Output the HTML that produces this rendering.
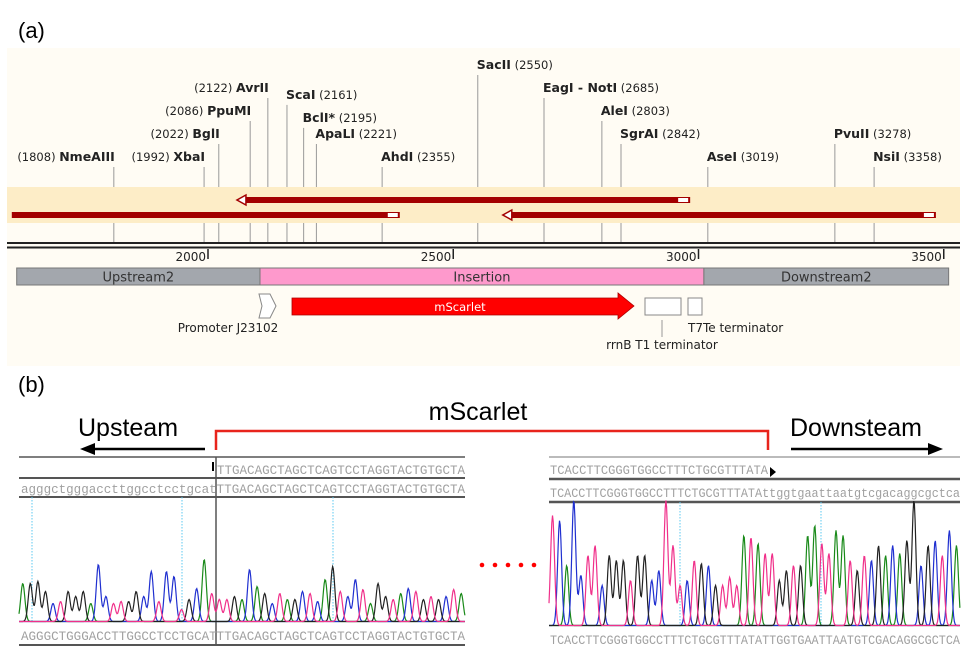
<!DOCTYPE html>
<html><head><meta charset="utf-8"><style>
html,body{margin:0;padding:0;background:#fff;}
svg{display:block;font-family:"DejaVu Sans","Liberation Sans",sans-serif;}
.seq{font-family:"Liberation Mono",monospace;font-size:12.5px;fill:#a0a0a0;}
</style></head><body>
<svg id="fig" width="976" height="651" viewBox="0 0 976 651" xmlns="http://www.w3.org/2000/svg">
<g id="panelA">
<rect x="7" y="48" width="953" height="318" fill="#fffcf4"/>
<rect x="7" y="187" width="953" height="36" fill="#fdedc7"/>
<text x="18" y="38" font-family="Liberation Sans" font-size="22" fill="#000">(a)</text>
<g id="sites"></g>
<line x1="7" y1="243" x2="960" y2="243" stroke="#222" stroke-width="2"/>
<line x1="7" y1="247.5" x2="960" y2="247.5" stroke="#222" stroke-width="2"/>
<g id="ticks"></g>
<g id="segs"></g>
<g id="bars"></g>
<polygon points="259,294 270,294 276,306 270,318 259,318 262,306" fill="#fff" stroke="#888"/>
<text x="228" y="332" text-anchor="middle" font-size="12" fill="#222">Promoter J23102</text>
<polygon points="292,298 618,298 618,293 634,306 618,319 618,315 292,315" fill="#f00" stroke="#a00" stroke-width="0.8"/>
<text x="460" y="311" text-anchor="middle" font-size="11.5" fill="#fff">mScarlet</text>
<rect x="645" y="298" width="36" height="17" fill="#fff" stroke="#888"/>
<rect x="688" y="298" width="14" height="17" fill="#fff" stroke="#888"/>
<line x1="662" y1="320" x2="662" y2="337" stroke="#999"/>
<text x="688" y="332" font-size="12" fill="#222">T7Te terminator</text>
<text x="662" y="349" text-anchor="middle" font-size="12" fill="#222">rrnB T1 terminator</text>
</g>
<g id="panelB">
<text x="18" y="392" font-family="Liberation Sans" font-size="22" fill="#000">(b)</text>
<text x="78" y="436" font-family="Liberation Sans" font-size="25" fill="#000">Upsteam</text>
<line x1="92" y1="449" x2="205" y2="449" stroke="#000" stroke-width="2.5"/>
<polygon points="80,449 95,443 95,455" fill="#000"/>
<text x="478" y="420" text-anchor="middle" font-family="Liberation Sans" font-size="25" fill="#000">mScarlet</text>
<path d="M216,450 V431 H768 V450" fill="none" stroke="#e8241c" stroke-width="2.5"/>
<text x="790" y="436" font-family="Liberation Sans" font-size="25" fill="#000">Downsteam</text>
<line x1="791" y1="449" x2="930" y2="449" stroke="#000" stroke-width="2.5"/>
<polygon points="943,449 928,443 928,455" fill="#000"/>
<g fill="#f00">
<circle cx="482" cy="565" r="2.3"/><circle cx="495" cy="565" r="2.3"/><circle cx="508" cy="565" r="2.3"/><circle cx="521" cy="565" r="2.3"/><circle cx="534" cy="565" r="2.3"/>
</g>
<g id="chromL">
<line x1="19" y1="457" x2="465" y2="457" stroke="#555" stroke-width="1.5"/>
<line x1="19" y1="478" x2="465" y2="478" stroke="#555" stroke-width="2"/>
<line x1="19" y1="497" x2="465" y2="497" stroke="#555" stroke-width="2"/>
<line x1="19" y1="645" x2="465" y2="645" stroke="#555" stroke-width="2"/>
<line x1="216" y1="457" x2="216" y2="645" stroke="#555" stroke-width="1.5"/>
<rect x="212" y="462" width="2" height="9" fill="#000"/>
<text class="seq" x="217" y="474" textLength="248" lengthAdjust="spacingAndGlyphs">TTGACAGCTAGCTCAGTCCTAGGTACTGTGCTA</text>
<text class="seq" x="21" y="493" textLength="444" lengthAdjust="spacingAndGlyphs">agggctgggaccttggcctcctgcatTTGACAGCTAGCTCAGTCCTAGGTACTGTGCTA</text>
<text class="seq" x="21" y="640" textLength="444" lengthAdjust="spacingAndGlyphs">AGGGCTGGGACCTTGGCCTCCTGCATTTGACAGCTAGCTCAGTCCTAGGTACTGTGCTA</text>
<g stroke="#5bc8f0" stroke-dasharray="1.5,1.5" stroke-width="1">
<line x1="32" y1="497" x2="32" y2="623"/><line x1="182" y1="497" x2="182" y2="623"/><line x1="333" y1="497" x2="333" y2="623"/>
</g>
</g>
<g id="chromR">
<line x1="549" y1="457" x2="960" y2="457" stroke="#777" stroke-width="1"/>
<line x1="549" y1="479" x2="960" y2="479" stroke="#555" stroke-width="2.5"/>
<line x1="549" y1="502" x2="960" y2="502" stroke="#555" stroke-width="2.5"/>
<text class="seq" x="550" y="474" textLength="218" lengthAdjust="spacingAndGlyphs">TCACCTTCGGGTGGCCTTTCTGCGTTTATA</text>
<polygon points="770,467 776,472 770,477" fill="#000"/>
<text class="seq" x="550" y="497" textLength="410" lengthAdjust="spacingAndGlyphs">TCACCTTCGGGTGGCCTTTCTGCGTTTATAttggtgaattaatgtcgacaggcgctca</text>
<text class="seq" x="550" y="644" textLength="410" lengthAdjust="spacingAndGlyphs">TCACCTTCGGGTGGCCTTTCTGCGTTTATATTGGTGAATTAATGTCGACAGGCGCTCA</text>
<g stroke="#5bc8f0" stroke-dasharray="1.5,1.5" stroke-width="1">
<line x1="680" y1="502" x2="680" y2="627"/><line x1="821" y1="502" x2="821" y2="627"/>
</g>
</g>
</g>
</svg>
<script>
// ---- Map data ----
const siteNames = ["NmeAIII","XbaI","BglI","PpuMI","AvrII","ScaI","BclI*","ApaLI","AhdI","SacII","EagI - NotI","AleI","SgrAI","AseI","PvuII","NsiI"];
const sitePos = [1808,1992,2022,2086,2122,2161,2195,2221,2355,2550,2685,2803,2842,3019,3278,3358];
const siteLevel = [0,0,1,2,3,2.7,1.7,1,0,4,3,2,1,0,1,0];
const siteLeft = [1,1,1,1,1,0,0,0,0,0,0,0,0,0,0,0];
const tickVals = [2000,2500,3000,3500];
const segNames = ["Upstream2","Insertion","Downstream2"];
const segStart = [1610,2106,3011];
const segEnd = [2106,3011,3510];
const orfStart = [2059,1600,2601];
const orfEnd = [2983,2391,3484];
const orfRow = [0,1,1];
const orfRev = [1,0,1];

const NS="http://www.w3.org/2000/svg";
const bx = bp => 208 + (bp-2000)*0.4905;
const ly = lv => 161 - lv*23;
function mk(tag, attrs, parent){const e=document.createElementNS(NS,tag);for(const k in attrs)e.setAttribute(k,attrs[k]);parent.appendChild(e);return e;}

const sites=document.getElementById('sites');
sitePos.forEach((p,i)=>{
  const x=bx(p), y=ly(siteLevel[i]);
  const l1=mk('line',{x1:x,y1:y+6,x2:x,y2:187,stroke:'#999','stroke-width':1},sites);
  
  
  const l2=mk('line',{x1:x,y1:223,x2:x,y2:243,stroke:'#999','stroke-width':1},sites);
  
  
  const t=mk('text',{x:siteLeft[i]?x+1:x-1,y:y,'font-size':11.5,fill:'#222','text-anchor':siteLeft[i]?'end':'start'},sites);
  
  
  if(siteLeft[i]){
    const a=mk('tspan',{},t);a.textContent='('+p+')  ';
    const b=mk('tspan',{'font-weight':'bold','font-size':12.5},t);b.textContent=siteNames[i];
  }else{
    const b=mk('tspan',{'font-weight':'bold','font-size':12.5},t);b.textContent=siteNames[i];
    const a=mk('tspan',{},t);a.textContent='  ('+p+')';
  }
});
const ticks=document.getElementById('ticks');
tickVals.forEach(v=>{
  const x=bx(v);
  const l=mk('line',{x1:x,y1:249,x2:x,y2:259,stroke:'#222','stroke-width':1.5},ticks);
  
  
  const t=mk('text',{x:x-2,y:261,'font-size':12,fill:'#222','text-anchor':'end'},ticks);
  
  
  t.textContent=v;
});
const segs=document.getElementById('segs');
segNames.forEach((n,i)=>{
  const x1=Math.max(13,bx(segStart[i])), x2=Math.min(950,bx(segEnd[i]));
  const r=mk('rect',{x:x1,y:268,width:x2-x1,height:17,fill:i==1?'#fe99cc':'#a3a7ad',stroke:'#777'},segs);
  
  
  const t=mk('text',{x:(x1+x2)/2,y:281.5,'text-anchor':'middle','font-size':13,fill:'#333'},segs);
  
  
  t.textContent=n;
});
const bars=document.getElementById('bars');
orfStart.forEach((s,i)=>{
  const x1=Math.max(7,bx(s)), x2=Math.min(960,bx(orfEnd[i])), y=orfRow[i]?215:200;
  const r=mk('rect',{x:x1+(orfRev[i]?8:0),y:y-3,width:x2-x1-(orfRev[i]?8:0),height:6,fill:'#a30000'},bars);
  
  
  mk('rect',{x:x2-12,y:y-2,width:10,height:4,fill:'#fff'},bars);
  if(orfRev[i]){const h=mk('polygon',{points:`${x1},${y} ${x1+9},${y-5} ${x1+9},${y+5}`,fill:'#fff',stroke:'#a30000','stroke-width':1.5},bars);
  
  }
});

// ---- Chromatogram data ----
const seqLeft = "AGGGCTGGGACCTTGGCCTCCTGCATTTGACAGCTAGCTCAGTCCTAGGTACTGTGCTA";
const heightsLeft = [38,38,40,30,18,20,30,25,30,18,57,25,18,20,20,30,25,50,20,50,45,12,22,33,62,28,22,22,25,22,52,35,28,18,28,22,22,30,28,20,42,55,30,25,42,32,18,38,25,22,28,33,30,22,25,22,25,32,28];
const seqRight = "TCACCTTCGGGTGGCCTTTCTGCGTTTATATTGGTGAATTAATGTCGACAGGCGCTCA";
const heightsRight = [110,105,60,125,50,70,80,40,70,65,65,45,70,70,45,55,125,80,40,45,65,62,60,40,40,48,40,90,88,82,72,72,45,55,60,60,90,100,82,72,95,90,65,55,70,65,80,70,80,72,85,125,60,80,85,70,95,80];
const baseColor = {A:'#1a8a1a',C:'#2030d0',G:'#222222',T:'#f0308a'};

function drawTrace(parentId, seq, hts, x0, x1, base){
  const g=document.getElementById(parentId);
  const step=(x1-x0)/seq.length;
  ['A','C','G','T'].forEach(b=>{
    let d='';
    for(let x=x0;x<=x1;x+=0.7){
      let y=0;
      for(let i=0;i<seq.length;i++){
        if(seq[i]!==b)continue;
        const c=x0+step*(i+0.5);const dx=(x-c)/(step*0.28);
        y+=hts[i]*Math.exp(-dx*dx/2);
      }
      y+=1.5;
      d+=(d?'L':'M')+x.toFixed(1)+','+(base-y).toFixed(1);
    }
    const p=mk('path',{d:d,fill:'none',stroke:baseColor[b],'stroke-width':1.2},g);
    
    
  });
}
drawTrace('chromL',seqLeft,heightsLeft,19,465,623);
drawTrace('chromR',seqRight,heightsRight,549,960,627);
</script>
</body></html>
